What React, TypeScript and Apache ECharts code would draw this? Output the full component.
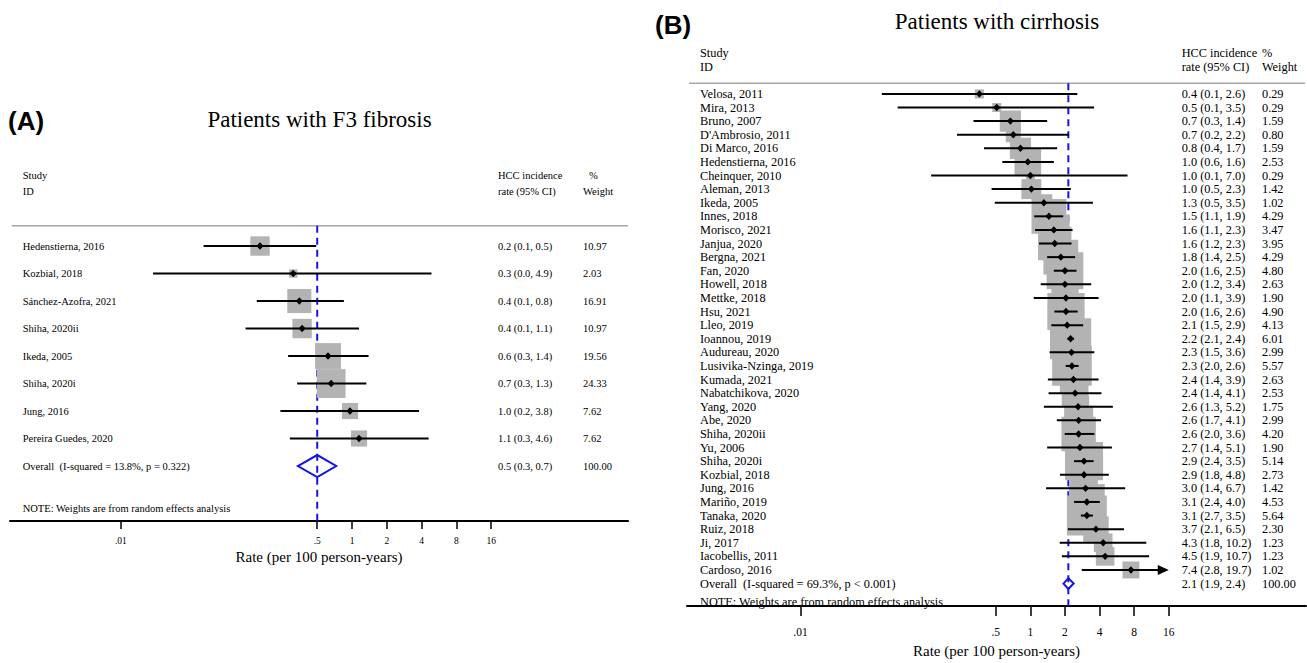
import React, { useEffect, useRef } from "react";
import * as echarts from "echarts";

// ---------- Panel A: Patients with F3 fibrosis ----------
const studiesA = [
  "Hedenstierna, 2016",
  "Kozbial, 2018",
  "Sánchez-Azofra, 2021",
  "Shiha, 2020ii",
  "Ikeda, 2005",
  "Shiha, 2020i",
  "Jung, 2016",
  "Pereira Guedes, 2020",
];
const estA = [0.16, 0.31, 0.35, 0.37, 0.62, 0.66, 0.96, 1.15];
const lowA = [0.052, 0.019, 0.15, 0.12, 0.28, 0.335, 0.24, 0.29];
const highA = [0.49, 4.87, 0.85, 1.15, 1.39, 1.33, 3.8, 4.6];
const weightA = [10.97, 2.03, 16.91, 10.97, 19.56, 24.33, 7.62, 7.62];
const ciTextA = [
  "0.2 (0.1, 0.5)",
  "0.3 (0.0, 4.9)",
  "0.4 (0.1, 0.8)",
  "0.4 (0.1, 1.1)",
  "0.6 (0.3, 1.4)",
  "0.7 (0.3, 1.3)",
  "1.0 (0.2, 3.8)",
  "1.1 (0.3, 4.6)",
];
const overallLabelA = "Overall  (I-squared = 13.8%, p = 0.322)";
const overallA = { est: 0.5, low: 0.34, high: 0.73, text: "0.5 (0.3, 0.7)", weight: 100 };

// ---------- Panel B: Patients with cirrhosis ----------
const studiesB = [
  "Velosa, 2011", "Mira, 2013", "Bruno, 2007", "D'Ambrosio, 2011", "Di Marco, 2016",
  "Hedenstierna, 2016", "Cheinquer, 2010", "Aleman, 2013", "Ikeda, 2005", "Innes, 2018",
  "Morisco, 2021", "Janjua, 2020", "Bergna, 2021", "Fan, 2020", "Howell, 2018",
  "Mettke, 2018", "Hsu, 2021", "Lleo, 2019", "Ioannou, 2019", "Audureau, 2020",
  "Lusivika-Nzinga, 2019", "Kumada, 2021", "Nabatchikova, 2020", "Yang, 2020", "Abe, 2020",
  "Shiha, 2020ii", "Yu, 2006", "Shiha, 2020i", "Kozbial, 2018", "Jung, 2016",
  "Mariño, 2019", "Tanaka, 2020", "Ruiz, 2018", "Ji, 2017", "Iacobellis, 2011",
  "Cardoso, 2016",
];
const estB = [
  0.36, 0.51, 0.67, 0.71, 0.82, 0.95, 1.0, 1.02, 1.31, 1.45,
  1.6, 1.63, 1.84, 2.0, 2.0, 2.04, 2.04, 2.09, 2.24, 2.28,
  2.3, 2.37, 2.45, 2.6, 2.63, 2.63, 2.7, 2.93, 2.93, 3.02,
  3.1, 3.1, 3.72, 4.3, 4.47, 7.5,
];
const lowB = [
  0.051, 0.07, 0.32, 0.23, 0.395, 0.57, 0.137, 0.46, 0.49, 1.08,
  1.1, 1.19, 1.4, 1.6, 1.23, 1.07, 1.62, 1.52, 2.1, 1.47,
  2.03, 1.42, 1.44, 1.31, 1.7, 1.99, 1.4, 2.4, 1.81, 1.37,
  2.4, 2.75, 2.12, 1.8, 1.88, 2.8,
];
const highB = [
  2.56, 3.58, 1.4, 2.16, 1.71, 1.6, 7.0, 2.25, 3.5, 1.93,
  2.33, 2.28, 2.45, 2.52, 3.38, 3.92, 2.58, 2.88, 2.4, 3.6,
  2.63, 3.92, 4.15, 5.22, 4.12, 3.6, 5.12, 3.55, 4.81, 6.68,
  4.02, 3.5, 6.52, 10.2, 10.8, 19.7,
];
const weightB = [
  0.29, 0.29, 1.59, 0.8, 1.59, 2.53, 0.29, 1.42, 1.02, 4.29,
  3.47, 3.95, 4.29, 4.8, 2.63, 1.9, 4.9, 4.13, 6.01, 2.99,
  5.57, 2.63, 2.53, 1.75, 2.99, 4.2, 1.9, 5.14, 2.73, 1.42,
  4.53, 5.64, 2.3, 1.23, 1.23, 1.02,
];
const ciTextB = [
  "0.4 (0.1, 2.6)", "0.5 (0.1, 3.5)", "0.7 (0.3, 1.4)", "0.7 (0.2, 2.2)", "0.8 (0.4, 1.7)",
  "1.0 (0.6, 1.6)", "1.0 (0.1, 7.0)", "1.0 (0.5, 2.3)", "1.3 (0.5, 3.5)", "1.5 (1.1, 1.9)",
  "1.6 (1.1, 2.3)", "1.6 (1.2, 2.3)", "1.8 (1.4, 2.5)", "2.0 (1.6, 2.5)", "2.0 (1.2, 3.4)",
  "2.0 (1.1, 3.9)", "2.0 (1.6, 2.6)", "2.1 (1.5, 2.9)", "2.2 (2.1, 2.4)", "2.3 (1.5, 3.6)",
  "2.3 (2.0, 2.6)", "2.4 (1.4, 3.9)", "2.4 (1.4, 4.1)", "2.6 (1.3, 5.2)", "2.6 (1.7, 4.1)",
  "2.6 (2.0, 3.6)", "2.7 (1.4, 5.1)", "2.9 (2.4, 3.5)", "2.9 (1.8, 4.8)", "3.0 (1.4, 6.7)",
  "3.1 (2.4, 4.0)", "3.1 (2.7, 3.5)", "3.7 (2.1, 6.5)", "4.3 (1.8, 10.2)", "4.5 (1.9, 10.7)",
  "7.4 (2.8, 19.7)",
];
const overallLabelB = "Overall  (I-squared = 69.3%, p < 0.001)";
const overallB = { est: 2.14, low: 1.94, high: 2.38, text: "2.1 (1.9, 2.4)", weight: 100 };

// ---------- shared axis ticks / texts ----------
const tickValues = [0.01, 0.5, 1, 2, 4, 8, 16];
const tickLabels = [".01", ".5", "1", "2", "4", "8", "16"];
const axisTitle = "Rate (per 100 person-years)";
const noteText = "NOTE: Weights are from random effects analysis";

const SERIF = "'Liberation Serif', 'Times New Roman', Times, serif";
const SANS = "'Liberation Sans', Arial, Helvetica, sans-serif";
const BLUE = "#1414e6";
const GREY_BOX = "#b3b3b3";

function tickLabel(v: number) {
  for (let i = 0; i < tickValues.length; i++) {
    if (Math.abs(Math.log2(v) - Math.log2(tickValues[i])) < 1e-6) return tickLabels[i];
  }
  return "";
}

type PanelCfg = {
  idx: number;
  studies: string[];
  est: number[];
  low: number[];
  high: number[];
  weight: number[];
  ciText: string[];
  overallLabel: string;
  overall: { est: number; low: number; high: number; text: string; weight: number };
  grid: { left: number; top: number; width: number; height: number };
  xMin: number;
  xMax: number;
  yMin: number;
  yMax: number;
  fontSize: number;
  tickFont: number;
  tickLen: number;
  labelMargin: number;
  nameGap: number;
  boxK: number;
  nameOff: number;
  ciOff: number;
  wOff: number;
};

function buildPanel(p: PanelCfg) {
  const n = p.studies.length;
  const clipMax = tickValues[tickValues.length - 1];
  const common = {
    type: "custom",
    coordinateSystem: "cartesian2d",
    xAxisIndex: p.idx,
    yAxisIndex: p.idx,
    silent: true,
    clip: false,
  };

  const refLine = {
    ...common,
    z: 1,
    encode: { x: 0, y: 1 },
    data: [[p.overall.est, p.yMin]],
    renderItem: (params: any, api: any) => {
      const a = api.coord([api.value(0), p.yMin]);
      const b = api.coord([api.value(0), p.yMax]);
      return {
        type: "line",
        shape: { x1: a[0], y1: a[1], x2: b[0], y2: b[1] },
        style: { stroke: BLUE, lineWidth: 2, lineDash: [7, 5] },
      };
    },
  };

  const boxes = {
    ...common,
    z: 2,
    encode: { x: 0, y: 1 },
    data: p.est.map((e, i) => [e, i, p.weight[i]]),
    renderItem: (params: any, api: any) => {
      const c = api.coord([api.value(0), api.value(1)]);
      const s = p.boxK * Math.sqrt(api.value(2));
      return {
        type: "rect",
        shape: { x: c[0] - s / 2, y: c[1] - s / 2, width: s, height: s },
        style: { fill: GREY_BOX },
      };
    },
  };

  const ci = {
    ...common,
    z: 3,
    encode: { x: [0, 1, 2], y: 3 },
    data: p.est.map((e, i) => [p.low[i], p.high[i], e, i]),
    renderItem: (params: any, api: any) => {
      const lo = api.value(0);
      const hi = api.value(1);
      const e = api.value(2);
      const r = api.value(3);
      const clipped = hi > clipMax;
      const l = api.coord([lo, r]);
      const h = api.coord([clipped ? clipMax : hi, r]);
      const pt = api.coord([e, r]);
      const children: any[] = [
        {
          type: "line",
          shape: { x1: l[0], y1: l[1], x2: clipped ? h[0] - 6 : h[0], y2: h[1] },
          style: { stroke: "#000", lineWidth: 2 },
        },
        {
          type: "polygon",
          shape: {
            points: [
              [pt[0] - 3.5, pt[1]],
              [pt[0], pt[1] - 3.7],
              [pt[0] + 3.5, pt[1]],
              [pt[0], pt[1] + 3.7],
            ],
          },
          style: { fill: "#000" },
        },
      ];
      if (clipped) {
        children.push({
          type: "polygon",
          shape: {
            points: [
              [h[0], h[1]],
              [h[0] - 11, h[1] - 5],
              [h[0] - 11, h[1] + 5],
            ],
          },
          style: { fill: "#000" },
        });
      }
      return { type: "group", children };
    },
  };

  const diamond = {
    ...common,
    z: 4,
    encode: { x: [0, 1, 2], y: 3 },
    data: [[p.overall.low, p.overall.high, p.overall.est, n]],
    renderItem: (params: any, api: any) => {
      const r = api.value(3);
      const l = api.coord([api.value(0), r]);
      const h = api.coord([api.value(1), r]);
      const c = api.coord([api.value(2), r]);
      const step = Math.abs(api.coord([api.value(2), r + 1])[1] - c[1]);
      const hh = step * 0.4;
      return {
        type: "polygon",
        shape: {
          points: [
            [l[0], l[1]],
            [c[0], c[1] - hh],
            [h[0], h[1]],
            [c[0], c[1] + hh],
          ],
        },
        style: { fill: "none", stroke: BLUE, lineWidth: 2 },
      };
    },
  };

  const rowNames = [...p.studies, p.overallLabel];
  const rowCi = [...p.ciText, p.overall.text];
  const rowW = [...p.weight, p.overall.weight].map((w) => w.toFixed(2));
  const mkText = (x: number, y: number, text: string) => ({
    type: "text",
    x,
    y,
    style: {
      text,
      fill: "#000",
      fontSize: p.fontSize,
      fontFamily: SERIF,
      textAlign: "left",
      align: "left",
      textVerticalAlign: "middle",
      verticalAlign: "middle",
    },
  });
  const texts = {
    ...common,
    z: 5,
    encode: { x: 0, y: 1 },
    data: rowNames.map((_, i) => [1, i]),
    renderItem: (params: any, api: any) => {
      const i = params.dataIndex;
      const cs = params.coordSys;
      const y = api.coord([1, api.value(1)])[1];
      return {
        type: "group",
        children: [
          mkText(cs.x + p.nameOff, y, rowNames[i]),
          mkText(cs.x + p.ciOff, y, rowCi[i]),
          mkText(cs.x + p.wOff, y, rowW[i]),
        ],
      };
    },
  };

  const grid = { ...p.grid, containLabel: false };
  const xAxis = {
    type: "log",
    logBase: 2,
    gridIndex: p.idx,
    min: p.xMin,
    max: p.xMax,
    axisLine: { show: true, onZero: false, lineStyle: { color: "#000", width: 2 } },
    axisTick: {
      show: true,
      customValues: tickValues,
      length: p.tickLen,
      lineStyle: { color: "#000", width: 1.5 },
    },
    axisLabel: {
      show: true,
      customValues: tickValues,
      formatter: (v: number) => tickLabel(v),
      margin: p.labelMargin,
      fontSize: p.tickFont,
      fontFamily: SERIF,
      color: "#000",
    },
    splitLine: { show: false },
    minorTick: { show: false },
    name: axisTitle,
    nameLocation: "middle",
    nameGap: p.nameGap,
    nameTextStyle: { fontSize: 15, fontFamily: SERIF, color: "#000" },
  };
  const yAxis = {
    type: "value",
    gridIndex: p.idx,
    inverse: true,
    min: p.yMin,
    max: p.yMax,
    show: false,
  };
  return { grid, xAxis, yAxis, series: [refLine, boxes, ci, diamond, texts] };
}

function gText(x: number, y: number, text: string, size: number, opts: any = {}) {
  return {
    type: "text",
    x,
    y,
    silent: true,
    style: {
      text,
      fill: "#000",
      fontSize: size,
      fontFamily: opts.family || SERIF,
      fontWeight: opts.weight || "normal",
      textAlign: opts.align || "left",
      align: opts.align || "left",
      textVerticalAlign: "middle",
      verticalAlign: "middle",
    },
  };
}

function gLine(x1: number, y: number, x2: number) {
  return {
    type: "line",
    silent: true,
    shape: { x1, y1: y, x2, y2: y },
    style: { stroke: "#a6a6a6", lineWidth: 1.5 },
  };
}

export default function App() {
  const ref = useRef<HTMLDivElement>(null);
  useEffect(() => {
    if (!ref.current) return;
    const chart = echarts.init(ref.current, undefined, { renderer: "svg" });

    const A = buildPanel({
      idx: 0,
      studies: studiesA,
      est: estA,
      low: lowA,
      high: highA,
      weight: weightA,
      ciText: ciTextA,
      overallLabel: overallLabelA,
      overall: overallA,
      grid: { left: 10, top: 225.7, width: 618, height: 295.3 },
      xMin: 0.0011,
      xMax: 244,
      yMin: -0.74,
      yMax: 10,
      fontSize: 10.5,
      tickFont: 9.5,
      tickLen: 8,
      labelMargin: 15,
      nameGap: 28,
      boxK: 5.85,
      nameOff: 12.7,
      ciOff: 488,
      wOff: 573,
    });
    const B = buildPanel({
      idx: 1,
      studies: studiesB,
      est: estB,
      low: lowB,
      high: highB,
      weight: weightB,
      ciText: ciTextB,
      overallLabel: overallLabelB,
      overall: overallB,
      grid: { left: 687, top: 83.3, width: 619, height: 528.4 },
      xMin: 0.00103,
      xMax: 250,
      yMin: -0.78,
      yMax: 37.65,
      fontSize: 12.3,
      tickFont: 11.5,
      tickLen: 10,
      labelMargin: 20,
      nameGap: 37,
      boxK: 16.8,
      nameOff: 13,
      ciOff: 494.7,
      wOff: 575,
    });

    const graphic = [
      gText(8, 121, "(A)", 26, { family: SANS, weight: "bold" }),
      gText(319.5, 119, "Patients with F3 fibrosis", 23, { align: "center" }),
      gText(22.7, 175.7, "Study", 10.5),
      gText(22.7, 191, "ID", 10.5),
      gText(498, 175.7, "HCC incidence", 10.5),
      gText(498, 191, "rate (95% CI)", 10.5),
      gText(589, 175.7, "%", 10.5),
      gText(583, 191, "Weight", 10.5),
      gLine(11.7, 225.7, 628),
      gText(22.7, 508, noteText, 10.5),

      gText(655, 25, "(B)", 26, { family: SANS, weight: "bold" }),
      gText(997, 21, "Patients with cirrhosis", 23, { align: "center" }),
      gText(700, 52.7, "Study", 12.3),
      gText(700, 66.7, "ID", 12.3),
      gText(1181.7, 52.7, "HCC incidence", 12.3),
      gText(1181.7, 66.7, "rate (95% CI)", 12.3),
      gText(1262, 52.7, "%", 12.3),
      gText(1262, 66.7, "Weight", 12.3),
      gLine(689, 83.3, 1305),
      gText(700, 602.3, noteText, 12.3),
    ];

    chart.setOption({
      animation: false,
      backgroundColor: "#ffffff",
      grid: [A.grid, B.grid],
      xAxis: [A.xAxis, B.xAxis],
      yAxis: [A.yAxis, B.yAxis],
      series: [...A.series, ...B.series],
      graphic,
    });
    return () => chart.dispose();
  }, []);

  return (
    <div
      ref={ref}
      style={{ position: "fixed", left: 0, top: 0, width: 1307, height: 663, background: "#fff" }}
    />
  );
}
